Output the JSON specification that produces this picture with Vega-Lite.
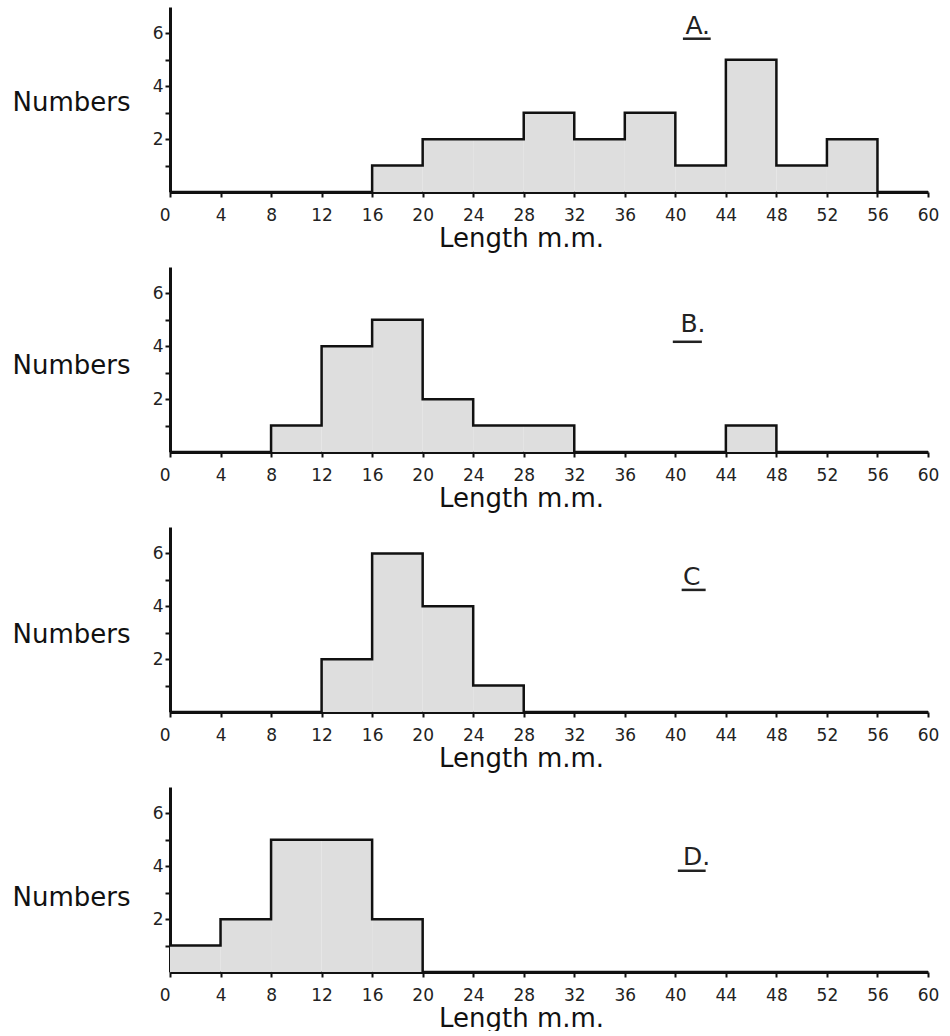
{
  "$schema": "https://vega.github.io/schema/vega-lite/v6.json",
  "padding": {"left": 12, "top": 7, "right": 5, "bottom": 0},
  "background": "white",
  "config": {
    "view": {"stroke": null},
    "font": "DejaVu Sans",
    "axis": {
      "grid": false,
      "domainColor": "#111",
      "domainWidth": 3,
      "tickColor": "#111",
      "tickWidth": 2,
      "tickSize": 5,
      "labelColor": "#222",
      "labelFont": "DejaVu Sans",
      "labelFontSize": 17,
      "labelOverlap": false,
      "titleFont": "DejaVu Sans",
      "titleColor": "#111",
      "titleFontWeight": "normal"
    }
  },
  "datasets": {
    "hist": [
      {"panel": "A", "start": 0, "end": 4, "count": 0},
      {"panel": "A", "start": 4, "end": 8, "count": 0},
      {"panel": "A", "start": 8, "end": 12, "count": 0},
      {"panel": "A", "start": 12, "end": 16, "count": 0},
      {"panel": "A", "start": 16, "end": 20, "count": 1},
      {"panel": "A", "start": 20, "end": 24, "count": 2},
      {"panel": "A", "start": 24, "end": 28, "count": 2},
      {"panel": "A", "start": 28, "end": 32, "count": 3},
      {"panel": "A", "start": 32, "end": 36, "count": 2},
      {"panel": "A", "start": 36, "end": 40, "count": 3},
      {"panel": "A", "start": 40, "end": 44, "count": 1},
      {"panel": "A", "start": 44, "end": 48, "count": 5},
      {"panel": "A", "start": 48, "end": 52, "count": 1},
      {"panel": "A", "start": 52, "end": 56, "count": 2},
      {"panel": "A", "start": 56, "end": 60, "count": 0},
      {"panel": "A", "start": 60, "end": 60, "count": 0},
      {"panel": "B", "start": 0, "end": 4, "count": 0},
      {"panel": "B", "start": 4, "end": 8, "count": 0},
      {"panel": "B", "start": 8, "end": 12, "count": 1},
      {"panel": "B", "start": 12, "end": 16, "count": 4},
      {"panel": "B", "start": 16, "end": 20, "count": 5},
      {"panel": "B", "start": 20, "end": 24, "count": 2},
      {"panel": "B", "start": 24, "end": 28, "count": 1},
      {"panel": "B", "start": 28, "end": 32, "count": 1},
      {"panel": "B", "start": 32, "end": 36, "count": 0},
      {"panel": "B", "start": 36, "end": 40, "count": 0},
      {"panel": "B", "start": 40, "end": 44, "count": 0},
      {"panel": "B", "start": 44, "end": 48, "count": 1},
      {"panel": "B", "start": 48, "end": 52, "count": 0},
      {"panel": "B", "start": 52, "end": 56, "count": 0},
      {"panel": "B", "start": 56, "end": 60, "count": 0},
      {"panel": "B", "start": 60, "end": 60, "count": 0},
      {"panel": "C", "start": 0, "end": 4, "count": 0},
      {"panel": "C", "start": 4, "end": 8, "count": 0},
      {"panel": "C", "start": 8, "end": 12, "count": 0},
      {"panel": "C", "start": 12, "end": 16, "count": 2},
      {"panel": "C", "start": 16, "end": 20, "count": 6},
      {"panel": "C", "start": 20, "end": 24, "count": 4},
      {"panel": "C", "start": 24, "end": 28, "count": 1},
      {"panel": "C", "start": 28, "end": 32, "count": 0},
      {"panel": "C", "start": 32, "end": 36, "count": 0},
      {"panel": "C", "start": 36, "end": 40, "count": 0},
      {"panel": "C", "start": 40, "end": 44, "count": 0},
      {"panel": "C", "start": 44, "end": 48, "count": 0},
      {"panel": "C", "start": 48, "end": 52, "count": 0},
      {"panel": "C", "start": 52, "end": 56, "count": 0},
      {"panel": "C", "start": 56, "end": 60, "count": 0},
      {"panel": "C", "start": 60, "end": 60, "count": 0},
      {"panel": "D", "start": 0, "end": 4, "count": 1},
      {"panel": "D", "start": 4, "end": 8, "count": 2},
      {"panel": "D", "start": 8, "end": 12, "count": 5},
      {"panel": "D", "start": 12, "end": 16, "count": 5},
      {"panel": "D", "start": 16, "end": 20, "count": 2},
      {"panel": "D", "start": 20, "end": 24, "count": 0},
      {"panel": "D", "start": 24, "end": 28, "count": 0},
      {"panel": "D", "start": 28, "end": 32, "count": 0},
      {"panel": "D", "start": 32, "end": 36, "count": 0},
      {"panel": "D", "start": 36, "end": 40, "count": 0},
      {"panel": "D", "start": 40, "end": 44, "count": 0},
      {"panel": "D", "start": 44, "end": 48, "count": 0},
      {"panel": "D", "start": 48, "end": 52, "count": 0},
      {"panel": "D", "start": 52, "end": 56, "count": 0},
      {"panel": "D", "start": 56, "end": 60, "count": 0},
      {"panel": "D", "start": 60, "end": 60, "count": 0}
    ]
  },
  "spacing": 16,
  "vconcat": [
    {
      "width": 758, "height": 185,
      "data": {"name": "hist"},
      "transform": [{"filter": "datum.panel == 'A'"}],
      "layer": [
        {
          "mark": {"type": "rect", "fill": "#dedede", "strokeWidth": 0},
          "encoding": {
            "x": {"field": "start", "type": "quantitative", "scale": {"domain": [0, 60], "nice": false, "padding": 0},
              "axis": {"values": [0,4,8,12,16,20,24,28,32,36,40,44,48,52,56,60], "tickCount": 20, "format": "d", "labelAlign": {"condition": {"test": "datum.value == 0", "value": "right"}, "value": "center"}, "labelPadding": 10, "title": "Length m.m.", "titleFontSize": 26, "titleX": 351, "titleY": 33, "titleBaseline": "top", "titleAlign": "center"}},
            "x2": {"field": "end"},
            "y": {"field": "count", "type": "quantitative", "scale": {"domain": [0, 7], "nice": false, "padding": 0},
              "axis": {"values": [1,2,3,4,5,6], "tickCount": 10, "format": "d", "labelExpr": "datum.value % 2 == 0 ? datum.label : ''", "labelPadding": 2, "title": "Numbers", "titleAngle": 0, "titleAlign": "left", "titleBaseline": "middle", "titleX": -158, "titleY": 95, "titleFontSize": 26}},
            "y2": {"datum": 0}
          }
        },
        {
          "mark": {"type": "line", "interpolate": "step-after", "color": "#111", "strokeWidth": 2.5},
          "encoding": {
            "x": {"field": "start", "type": "quantitative"},
            "y": {"field": "count", "type": "quantitative"}
          }
        },
        {
          "data": {"values": [{"label": "A."}]},
          "mark": {"type": "text", "align": "left", "baseline": "alphabetic", "fontSize": 25, "color": "#222"},
          "encoding": {"text": {"field": "label"}, "x": {"datum": 40.8}, "y": {"datum": 5.98}}
        },
        {
          "data": {"values": [{"label": "A."}]},
          "mark": {"type": "rule", "color": "#222", "strokeWidth": 2.5},
          "encoding": {"x": {"datum": 40.6}, "x2": {"datum": 42.8}, "y": {"datum": 5.8}}
        }
      ]
    },
    {
      "width": 758, "height": 185,
      "data": {"name": "hist"},
      "transform": [{"filter": "datum.panel == 'B'"}],
      "layer": [
        {
          "mark": {"type": "rect", "fill": "#dedede", "strokeWidth": 0},
          "encoding": {
            "x": {"field": "start", "type": "quantitative", "scale": {"domain": [0, 60], "nice": false, "padding": 0},
              "axis": {"values": [0,4,8,12,16,20,24,28,32,36,40,44,48,52,56,60], "tickCount": 20, "format": "d", "labelAlign": {"condition": {"test": "datum.value == 0", "value": "right"}, "value": "center"}, "labelPadding": 10, "title": "Length m.m.", "titleFontSize": 26, "titleX": 351, "titleY": 33, "titleBaseline": "top", "titleAlign": "center"}},
            "x2": {"field": "end"},
            "y": {"field": "count", "type": "quantitative", "scale": {"domain": [0, 7], "nice": false, "padding": 0},
              "axis": {"values": [1,2,3,4,5,6], "tickCount": 10, "format": "d", "labelExpr": "datum.value % 2 == 0 ? datum.label : ''", "labelPadding": 2, "title": "Numbers", "titleAngle": 0, "titleAlign": "left", "titleBaseline": "middle", "titleX": -158, "titleY": 98, "titleFontSize": 26}},
            "y2": {"datum": 0}
          }
        },
        {
          "mark": {"type": "line", "interpolate": "step-after", "color": "#111", "strokeWidth": 2.5},
          "encoding": {
            "x": {"field": "start", "type": "quantitative"},
            "y": {"field": "count", "type": "quantitative"}
          }
        },
        {
          "data": {"values": [{"label": "B."}]},
          "mark": {"type": "text", "align": "left", "baseline": "alphabetic", "fontSize": 25, "color": "#222"},
          "encoding": {"text": {"field": "label"}, "x": {"datum": 40.4}, "y": {"datum": 4.55}}
        },
        {
          "data": {"values": [{"label": "B."}]},
          "mark": {"type": "rule", "color": "#222", "strokeWidth": 2.5},
          "encoding": {"x": {"datum": 39.8}, "x2": {"datum": 42.1}, "y": {"datum": 4.17}}
        }
      ]
    },
    {
      "width": 758, "height": 185,
      "data": {"name": "hist"},
      "transform": [{"filter": "datum.panel == 'C'"}],
      "layer": [
        {
          "mark": {"type": "rect", "fill": "#dedede", "strokeWidth": 0},
          "encoding": {
            "x": {"field": "start", "type": "quantitative", "scale": {"domain": [0, 60], "nice": false, "padding": 0},
              "axis": {"values": [0,4,8,12,16,20,24,28,32,36,40,44,48,52,56,60], "tickCount": 20, "format": "d", "labelAlign": {"condition": {"test": "datum.value == 0", "value": "right"}, "value": "center"}, "labelPadding": 10, "title": "Length m.m.", "titleFontSize": 26, "titleX": 351, "titleY": 33, "titleBaseline": "top", "titleAlign": "center"}},
            "x2": {"field": "end"},
            "y": {"field": "count", "type": "quantitative", "scale": {"domain": [0, 7], "nice": false, "padding": 0},
              "axis": {"values": [1,2,3,4,5,6], "tickCount": 10, "format": "d", "labelExpr": "datum.value % 2 == 0 ? datum.label : ''", "labelPadding": 2, "title": "Numbers", "titleAngle": 0, "titleAlign": "left", "titleBaseline": "middle", "titleX": -158, "titleY": 107, "titleFontSize": 26}},
            "y2": {"datum": 0}
          }
        },
        {
          "mark": {"type": "line", "interpolate": "step-after", "color": "#111", "strokeWidth": 2.5},
          "encoding": {
            "x": {"field": "start", "type": "quantitative"},
            "y": {"field": "count", "type": "quantitative"}
          }
        },
        {
          "data": {"values": [{"label": "C"}]},
          "mark": {"type": "text", "align": "left", "baseline": "alphabetic", "fontSize": 25, "color": "#222"},
          "encoding": {"text": {"field": "label"}, "x": {"datum": 40.6}, "y": {"datum": 4.81}}
        },
        {
          "data": {"values": [{"label": "C"}]},
          "mark": {"type": "rule", "color": "#222", "strokeWidth": 2.5},
          "encoding": {"x": {"datum": 40.5}, "x2": {"datum": 42.4}, "y": {"datum": 4.62}}
        }
      ]
    },
    {
      "width": 758, "height": 185,
      "data": {"name": "hist"},
      "transform": [{"filter": "datum.panel == 'D'"}],
      "layer": [
        {
          "mark": {"type": "rect", "fill": "#dedede", "strokeWidth": 0},
          "encoding": {
            "x": {"field": "start", "type": "quantitative", "scale": {"domain": [0, 60], "nice": false, "padding": 0},
              "axis": {"values": [0,4,8,12,16,20,24,28,32,36,40,44,48,52,56,60], "tickCount": 20, "format": "d", "labelAlign": {"condition": {"test": "datum.value == 0", "value": "right"}, "value": "center"}, "labelPadding": 10, "title": "Length m.m.", "titleFontSize": 26, "titleX": 351, "titleY": 33, "titleBaseline": "top", "titleAlign": "center"}},
            "x2": {"field": "end"},
            "y": {"field": "count", "type": "quantitative", "scale": {"domain": [0, 7], "nice": false, "padding": 0},
              "axis": {"values": [1,2,3,4,5,6], "tickCount": 10, "format": "d", "labelExpr": "datum.value % 2 == 0 ? datum.label : ''", "labelPadding": 2, "title": "Numbers", "titleAngle": 0, "titleAlign": "left", "titleBaseline": "middle", "titleX": -158, "titleY": 110, "titleFontSize": 26}},
            "y2": {"datum": 0}
          }
        },
        {
          "mark": {"type": "line", "interpolate": "step-after", "color": "#111", "strokeWidth": 2.5},
          "encoding": {
            "x": {"field": "start", "type": "quantitative"},
            "y": {"field": "count", "type": "quantitative"}
          }
        },
        {
          "data": {"values": [{"label": "D."}]},
          "mark": {"type": "text", "align": "left", "baseline": "alphabetic", "fontSize": 25, "color": "#222"},
          "encoding": {"text": {"field": "label"}, "x": {"datum": 40.6}, "y": {"datum": 4.05}}
        },
        {
          "data": {"values": [{"label": "D."}]},
          "mark": {"type": "rule", "color": "#222", "strokeWidth": 2.5},
          "encoding": {"x": {"datum": 40.2}, "x2": {"datum": 42.4}, "y": {"datum": 3.83}}
        }
      ]
    }
  ]
}
